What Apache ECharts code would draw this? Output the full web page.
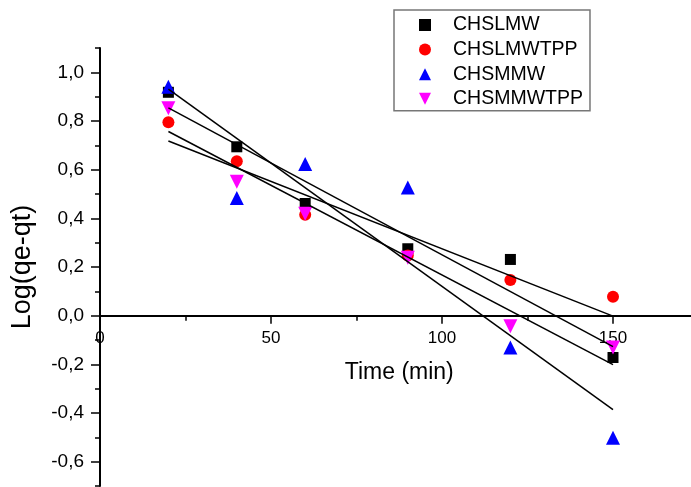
<!DOCTYPE html>
<html>
<head>
<meta charset="utf-8">
<script src="https://cdn.jsdelivr.net/npm/echarts@6/dist/echarts.min.js"></script>
<style>
  html, body { margin: 0; padding: 0; background: #fff; }
  #chart { width: 691px; height: 487px; }
</style>
</head>
<body>
<div id="chart"></div>
<script>
// Sampling times (min)
const times = [20, 40, 60, 90, 120, 150];

// Log(qe-qt) for each sample
const chslmw    = [0.918, 0.694, 0.461, 0.275, 0.231, -0.172];
const chslmwtpp = [0.795, 0.635, 0.415, 0.247, 0.147, 0.078];
const chsmmw    = [0.941, 0.484, 0.623, 0.527, -0.131, -0.502];
const chsmmwtpp = [0.852, 0.550, 0.419, 0.238, -0.044, -0.131];

// Linear fit lines: x range and end values per sample
const fitX = [20, 150];
const fitChslmw    = [0.854, -0.127];
const fitChslmwtpp = [0.718, -0.002];
const fitChsmmw    = [0.931, -0.386];
const fitChsmmwtpp = [0.757, -0.201];

// Axis ticks
const xMajorTicks = [0, 50, 100, 150];
const xMinorTicks = [25, 75, 125, 175];
const yMajorTicks = [-0.6, -0.4, -0.2, 0, 0.2, 0.4, 0.6, 0.8, 1.0];

const FONT = '"Liberation Sans", Arial, sans-serif';
const W = 691, H = 487;
const GRID = { left: 100, top: 48, right: -7.5, bottom: 1 };
const X_MIN = 0, X_MAX = 175, Y_MIN = -0.7, Y_MAX = 1.1;

// Downward-pointing triangle marker (also used by the legend icon)
const DOWN_TRIANGLE = 'path://M0,0L14,0L7,14Z';

// The time axis crosses the value axis at zero: shift it up from the grid bottom
const plotH = H - GRID.top - GRID.bottom;
const zeroOffset = -plotH * (0 - Y_MIN) / (Y_MAX - Y_MIN);

function pairs(xs, ys) { return xs.map((x, i) => [x, ys[i]]); }

const chart = echarts.init(document.getElementById('chart'), null, { renderer: 'canvas' });

function scatter(name, data, symbol, size, color) {
  return {
    name: name, type: 'scatter', xAxisIndex: 0, yAxisIndex: 0,
    data: pairs(times, data), symbol: symbol, symbolSize: size,
    itemStyle: { color: color, opacity: 1 },
    z: 2
  };
}
function fitLine(name, ends) {
  return {
    name: name, type: 'line', xAxisIndex: 0, yAxisIndex: 0,
    data: pairs(fitX, ends), showSymbol: false, symbol: 'none',
    lineStyle: { color: '#000', width: 1.5 },
    silent: true, z: 3
  };
}

const axisLineStyle = { color: '#000', width: 2 };
const tickLineStyle = { color: '#000', width: 1.5 };

chart.setOption({
  animation: false,
  backgroundColor: '#fff',
  textStyle: { fontFamily: FONT },
  grid: Object.assign({ containLabel: false, outerBoundsMode: 'none' }, GRID),
  legend: {
    data: ['CHSLMW', 'CHSLMWTPP', 'CHSMMW', 'CHSMMWTPP'],
    orient: 'vertical',
    left: 394, top: 10,
    padding: [5, 7, 2, 25],
    itemWidth: 12, itemHeight: 12,
    itemGap: 4.6,
    borderColor: '#777', borderWidth: 1.5,
    textStyle: { fontFamily: FONT, fontSize: 19.5, color: '#000', lineHeight: 20, padding: [0, 0, 0, 17] }
  },
  xAxis: [
    {
      type: 'value', min: X_MIN, max: X_MAX, position: 'bottom', offset: zeroOffset,
      axisLine: { show: true, onZero: false, lineStyle: axisLineStyle },
      axisTick: { show: true, inside: false, length: 8, customValues: xMajorTicks, lineStyle: tickLineStyle },
      axisLabel: { show: true, customValues: xMajorTicks, margin: 14, fontSize: 17, color: '#000', fontFamily: FONT },
      splitLine: { show: false },
      name: 'Time (min)', nameLocation: 'middle', nameGap: 45,
      nameTextStyle: { fontSize: 23, color: '#000', fontFamily: FONT }
    },
    {
      type: 'value', min: X_MIN, max: X_MAX, position: 'bottom', offset: zeroOffset,
      axisLine: { show: false, onZero: false },
      axisTick: { show: true, inside: false, length: 5, customValues: xMinorTicks, lineStyle: tickLineStyle },
      axisLabel: { show: false },
      splitLine: { show: false }
    }
  ],
  yAxis: [
    {
      type: 'value', min: Y_MIN, max: Y_MAX, position: 'left',
      axisLine: { show: true, onZero: false, lineStyle: axisLineStyle },
      axisTick: { show: true, inside: false, length: 9, customValues: yMajorTicks, lineStyle: tickLineStyle },
      axisLabel: {
        show: true, customValues: yMajorTicks, margin: 16, fontSize: 19, color: '#000', fontFamily: FONT,
        formatter: v => v.toFixed(1).replace('.', ',')
      },
      splitLine: { show: false },
      name: 'Log(qe-qt)', nameLocation: 'middle', nameRotate: 90, nameGap: 64,
      nameTextStyle: { fontSize: 27, color: '#000', fontFamily: FONT }
    },
    {
      type: 'value', min: Y_MIN, max: Y_MAX, interval: 0.1, position: 'left',
      axisLine: { show: false, onZero: false },
      axisTick: { show: true, inside: false, length: 5, lineStyle: tickLineStyle },
      axisLabel: { show: false },
      splitLine: { show: false }
    }
  ],
  series: [
    scatter('CHSLMW', chslmw, 'rect', 11, '#000000'),
    scatter('CHSLMWTPP', chslmwtpp, 'circle', 12, '#ff0000'),
    scatter('CHSMMW', chsmmw, 'triangle', 14, '#0000ff'),
    scatter('CHSMMWTPP', chsmmwtpp, DOWN_TRIANGLE, 14, '#ff00ff'),
    fitLine('fit CHSLMW', fitChslmw),
    fitLine('fit CHSLMWTPP', fitChslmwtpp),
    fitLine('fit CHSMMW', fitChsmmw),
    fitLine('fit CHSMMWTPP', fitChsmmwtpp)
  ]
});
</script>
</body>
</html>
